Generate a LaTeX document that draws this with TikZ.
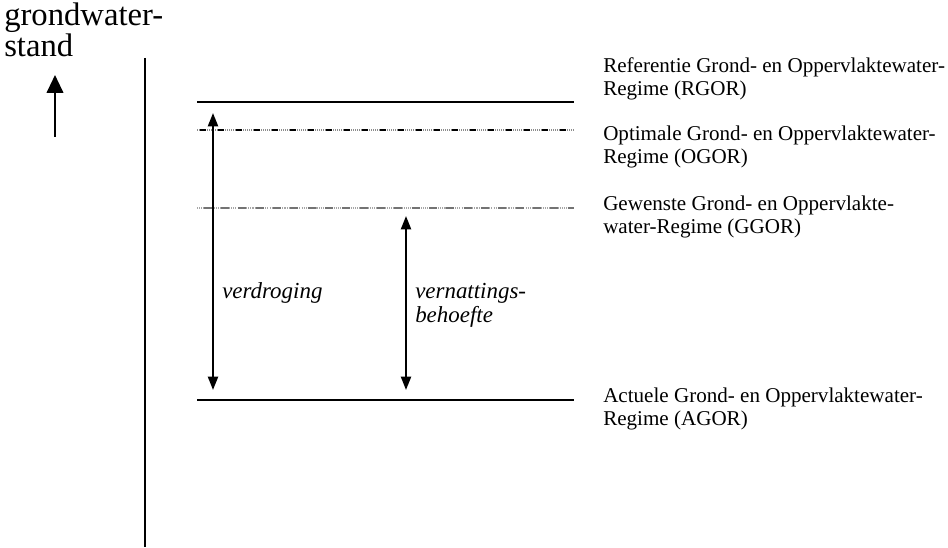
\documentclass[tikz,border=0pt]{standalone}
\usepackage{fontspec}
\setmainfont{Liberation Serif}
\usetikzlibrary{arrows.meta}
\begin{document}
\begin{tikzpicture}[x=0.75pt,y=-0.75pt,
  level/.style={line width=1.5pt},
  axisline/.style={line width=1.5pt},
  lbl/.style={anchor=north west,inner sep=0pt,align=left,font=\fontsize{15.8}{17.25}\selectfont},
  ilbl/.style={lbl,font=\fontsize{17.2}{18}\selectfont\itshape},
  big/.style={anchor=base west,inner sep=0pt,font=\fontsize{24.5}{18}\selectfont},
  dbl/.style={line width=1.5pt,{Triangle[length=10pt,width=7.5pt]}-{Triangle[length=10pt,width=7.5pt]}},
  up/.style={line width=1.5pt,-{Triangle[length=13.5pt,width=12.5pt]}}]
\useasboundingbox (0,0) rectangle (948,548);
% left label and arrow
\node[big] (gw1) at (4,26) {grondwater-};
\node[big] (gw2) at (4,57) {stand};
\coordinate (ua) at (55,137);
\coordinate (ub) at (55,75);
\draw[up] (ua) -- (ub);
% vertical axis
\coordinate (ax1) at (145,58);
\coordinate (ax2) at (145,547);
\draw[axisline] (ax1) -- (ax2);
% levels
\coordinate (r1) at (197,102); \coordinate (r2) at (574,102);
\coordinate (o1) at (197,130); \coordinate (o2) at (574,130);
\coordinate (g1) at (197,208); \coordinate (g2) at (574,208);
\coordinate (a1) at (197,400); \coordinate (a2) at (574,400);
\draw[level] (r1) -- (r2);
\draw[black!45,line width=0.9pt,dash pattern=on 0.8pt off 0.7pt] (o1) -- (o2);
\draw[black,line width=1.3pt,dash pattern=on 4.5pt off 9pt,dash phase=-2pt] (o1) -- (o2);
\draw[black!35,line width=0.8pt,dash pattern=on 0.8pt off 0.8pt] (g1) -- (g2);
\draw[black!55,line width=0.8pt,dash pattern=on 6pt off 7pt,dash phase=-5pt] (g1) -- (g2);
\draw[level] (a1) -- (a2);
% arrows
\coordinate (vt) at (213,113); \coordinate (vb) at (213,390);
\coordinate (nt) at (406,216); \coordinate (nb) at (406,390);
\draw[dbl] (vb) -- (vt);
\draw[dbl] (nb) -- (nt);
% arrow labels
\node[ilbl] (verd) at (222,281.2) {\strut verdroging};
\node[ilbl] (vern) at (415,281.2) {\strut vernattings-\\\strut behoefte};
% right labels
\node[lbl] (rgor) at (603,55.9) {\strut Referentie Grond- en Oppervlaktewater-\\\strut Regime (RGOR)};
\node[lbl] (ogor) at (603,123.9) {\strut Optimale Grond- en Oppervlaktewater-\\\strut Regime (OGOR)};
\node[lbl] (ggor) at (603,193.9) {\strut Gewenste Grond- en Oppervlakte-\\\strut water-Regime (GGOR)};
\node[lbl] (agor) at (603,385.9) {\strut Actuele Grond- en Oppervlaktewater-\\\strut Regime (AGOR)};
\end{tikzpicture}
\end{document}
